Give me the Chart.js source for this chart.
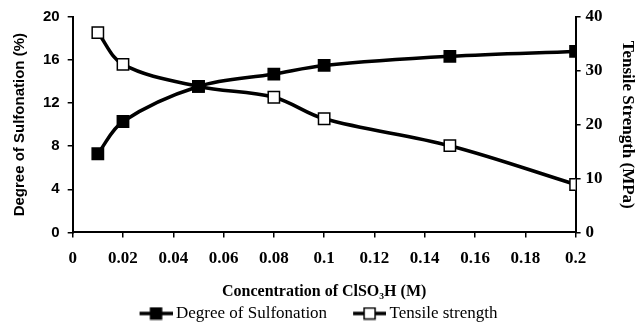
<!DOCTYPE html>
<html><head><meta charset="utf-8">
<script src="https://cdn.jsdelivr.net/npm/chart.js@4/dist/chart.umd.min.js"></script>
<style>html,body{margin:0;padding:0;background:#fff}#wrap{width:638px;height:325px}</style>
</head><body><div id="wrap"><canvas id="c" width="638" height="325"></canvas></div>
<script>
const concentration = [0.01, 0.02, 0.05, 0.08, 0.10, 0.15, 0.20];
const sulfonation = [7.3, 10.3, 13.55, 14.7, 15.5, 16.35, 16.8];
const tensile = [37.1, 31.2, 27.1, 25.1, 21.1, 16.1, 8.9];
const xTicks = [0, 0.02, 0.04, 0.06, 0.08, 0.1, 0.12, 0.14, 0.16, 0.18, 0.2];
const leftTicks = [0, 4, 8, 12, 16, 20];
const rightTicks = [0, 10, 20, 30, 40];

const SERIF = "'Liberation Serif', serif";
const SANS = "'Liberation Sans', sans-serif";

function legendIcon(filled) {
  const cv = document.createElement('canvas');
  cv.width = 60; cv.height = 14;
  const g = cv.getContext('2d');
  const x0 = 27; // visible icon occupies rightmost 33px
  g.strokeStyle = '#000'; g.lineWidth = 3.5;
  g.beginPath(); g.moveTo(x0, 7); g.lineTo(60, 7); g.stroke();
  g.fillStyle = filled ? '#000' : '#fff';
  g.fillRect(x0 + 11, 1.5, 11, 11);
  g.lineWidth = 1.5; g.strokeRect(x0 + 11, 1.5, 11, 11);
  return cv;
}

// shifts the legend row left to compensate for the blank lead-in of the icon images
const legendShift = {
  id: 'legendShift',
  beforeDraw(chart) {
    const lg = chart.legend;
    if (lg && !lg._shifted) {
      const orig = lg.draw.bind(lg);
      lg.draw = function () {
        const ctx = chart.ctx;
        ctx.save(); ctx.translate(-17, 0); orig(); ctx.restore();
      };
      lg._shifted = true;
    }
  }
};

const ds = (label, vals, axis, filled) => ({
  label,
  data: concentration.map((x, i) => ({x, y: vals[i]})),
  yAxisID: axis,
  borderColor: '#000',
  borderWidth: 3.5,
  backgroundColor: filled ? '#000' : '#fff',
  pointStyle: 'rect',
  pointRadius: 8,
  pointBorderWidth: 1.5,
  pointBorderColor: '#000',
  pointBackgroundColor: filled ? '#000' : '#fff',
  tension: 0.35,
  fill: false
});

const axisCommon = {
  grid: {display: true, drawOnChartArea: false, drawTicks: true, tickLength: 5, color: '#000', lineWidth: 1.5},
  border: {display: true, color: '#000', width: 2}
};

new Chart(document.getElementById('c'), {
  type: 'line',
  data: {datasets: [
    ds('Degree of Sulfonation', sulfonation, 'y', true),
    ds('Tensile strength', tensile, 'y1', false)
  ]},
  plugins: [legendShift],
  options: {
    responsive: false,
    animation: false,
    layout: {padding: {left: 11, right: 0, top: 12, bottom: -7}},
    plugins: {
      tooltip: {enabled: false},
      legend: {
        position: 'bottom',
        labels: {
          usePointStyle: true,
          pointStyleWidth: 50,
          color: '#000',
          font: {family: SERIF, size: 17},
          padding: 4,
          generateLabels: (chart) => chart.data.datasets.map((d, i) => ({
            text: d.label, datasetIndex: i, pointStyle: legendIcon(i === 0),
            fontColor: '#000', lineWidth: 0, strokeStyle: '#000', fillStyle: '#000'
          }))
        }
      }
    },
    scales: {
      x: {
        type: 'linear', min: 0, max: 0.2,
        afterBuildTicks: (s) => { s.ticks = xTicks.map(v => ({value: v})); },
        ticks: {color: '#000', font: {family: SERIF, size: 17, weight: 'bold'}, padding: 11,
          maxRotation: 0, callback: (v) => String(+v.toFixed(2))},
        title: {display: true, text: 'Concentration of ClSO₃H (M)', color: '#000',
          font: {family: SERIF, size: 16, weight: 'bold'}, padding: {top: 2, bottom: 0}},
        ...axisCommon
      },
      y: {
        position: 'left', min: 0, max: 20,
        afterBuildTicks: (s) => { s.ticks = leftTicks.map(v => ({value: v})); },
        ticks: {color: '#000', font: {family: SANS, size: 15, weight: 'bold'}, padding: 8},
        title: {display: true, text: 'Degree of Sulfonation (%)', color: '#000',
          font: {family: SANS, size: 15, weight: 'bold'}, padding: {top: 0, bottom: 6}},
        ...axisCommon
      },
      y1: {
        position: 'right', min: 0, max: 40,
        afterBuildTicks: (s) => { s.ticks = rightTicks.map(v => ({value: v})); },
        ticks: {color: '#000', font: {family: SERIF, size: 17, weight: 'bold'}, padding: 5},
        title: {display: true, text: 'Tensile Strength (MPa)', color: '#000',
          font: {family: SERIF, size: 17, weight: 'bold'}, padding: {top: 0, bottom: 10}},
        ...axisCommon
      }
    }
  }
});
</script></body></html>
